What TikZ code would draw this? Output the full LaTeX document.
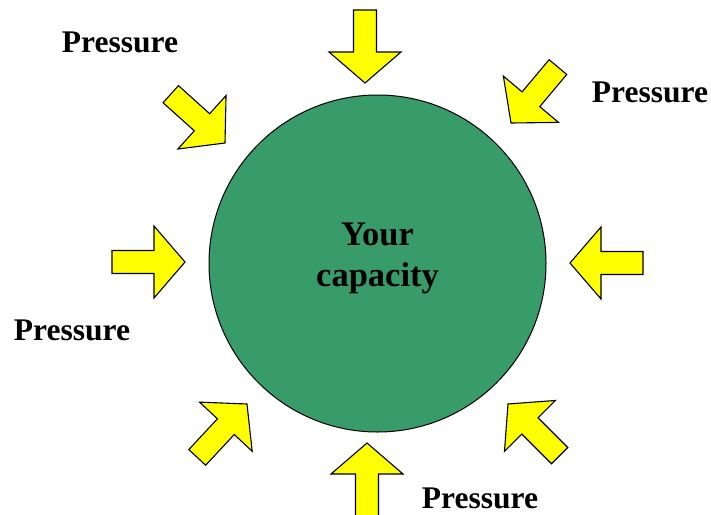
\documentclass[tikz,border=0pt]{standalone}
\usepackage{fontspec}
\setmainfont{Liberation Serif}
\definecolor{capgreen}{RGB}{56,155,106}
\definecolor{arrowyellow}{RGB}{255,255,0}
\tikzset{
  arrowbody/.style={draw=black, line width=1.1pt, fill=arrowyellow, line join=miter},
  pics/pressarrow/.style={code={
    \draw[arrowbody] (0,0) -- (-31,36) -- (-31,11.5) -- (-73,11.5) -- (-73,-11.5) -- (-31,-11.5) -- (-31,-36) -- cycle;
  }},
  label/.style={font=\bfseries\fontsize{31.5}{36}\selectfont, anchor=base, inner sep=0pt},
  centertext/.style={font=\bfseries\fontsize{34.5}{41}\selectfont, align=center, inner sep=0pt, text=black}
}
\begin{document}
\begin{tikzpicture}[x=1pt,y=-1pt]
\useasboundingbox (0,0) rectangle (711,514);
\node[circle, draw=black, line width=1pt, fill=capgreen, minimum size=337pt, inner sep=0pt] (cap) at (377.5,263.5) {};
\node[centertext] (captext) at (377.5,258) {Your\\capacity};
% arrows
\pic[rotate=-90] (atop) at (365,83) {pressarrow};
\pic[rotate=-42] (atl) at (225,143) {pressarrow};
\pic[rotate=-130] (atr) at (511,123) {pressarrow};
\pic[rotate=0] (aleft) at (185,262) {pressarrow};
\pic[rotate=180] (aright) at (570,263) {pressarrow};
\pic[rotate=47] (abl) at (247,404) {pressarrow};
\pic[rotate=90] (abot) at (367,443) {pressarrow};
\pic[rotate=135] (abr) at (508,404) {pressarrow};
% labels
\node[label] (ptl) at (120,52) {Pressure};
\node[label] (ptr) at (650,102) {Pressure};
\node[label] (pl) at (72,340) {Pressure};
\node[label] (pb) at (480,508) {Pressure};
\end{tikzpicture}
\end{document}
